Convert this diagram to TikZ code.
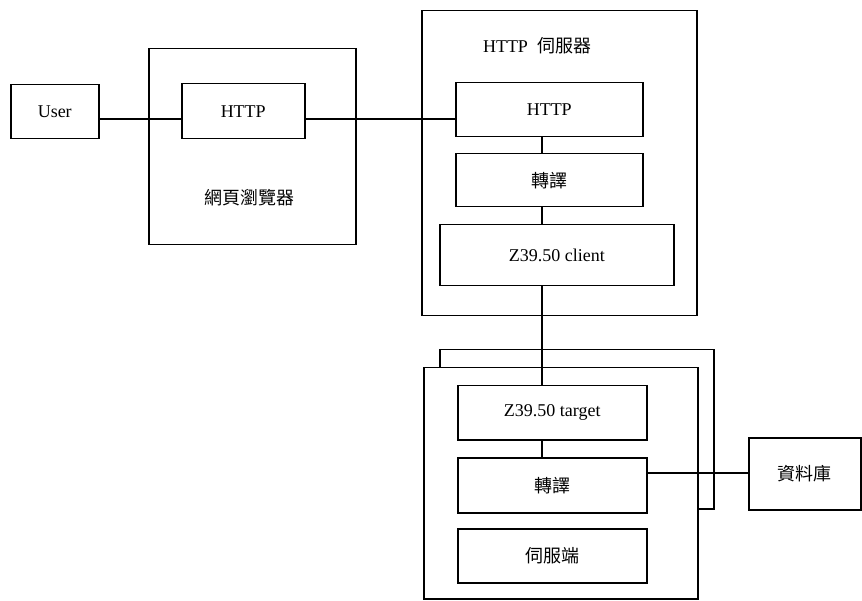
\documentclass[tikz,border=0pt]{standalone}
\usepackage{fontspec}
\setmainfont{Liberation Serif}
\newfontfamily\cjk{Noto Sans CJK TC}
\begin{document}
\begin{tikzpicture}[x=1pt,y=-1pt,
  box/.style={draw=black,line width=1.5pt,fill=white,inner sep=0pt,anchor=north west},
  lbl/.style={inner sep=0pt,font=\fontsize{18}{21}\selectfont},
  clbl/.style={inner sep=0pt,font=\cjk\fontsize{18}{21}\selectfont},
  conn/.style={draw=black,line width=2pt},
  thin/.style={draw=black,line width=1.4pt}]
\useasboundingbox (0,0) rectangle (862,601);
% user
\node[box,minimum width=88pt,minimum height=54pt] (user) at (10,84) {};
\node[lbl] (userl) at (user.center) {User};
% browser
\node[box,minimum width=207pt,minimum height=196pt] (browser) at (148,48) {};
\node[clbl] (browserl) at (249,198) {網頁瀏覽器};
\node[box,minimum width=123pt,minimum height=55pt] (bhttp) at (181,83) {};
\node[lbl] (bhttpl) at (bhttp.center) {HTTP};
% server
\node[box,minimum width=275pt,minimum height=305pt] (server) at (421,10) {};
\node[lbl] (serverl) at (537,46) {HTTP\ \ {\cjk 伺服器}};
\node[box,minimum width=187pt,minimum height=54pt] (shttp) at (455,82) {};
\node[lbl] (shttpl) at (shttp.center) {HTTP};
\node[box,minimum width=187pt,minimum height=53pt] (strans) at (455,153) {};
\node[clbl] (stransl) at (strans.center) {轉譯};
\node[box,minimum width=234pt,minimum height=61pt] (client) at (439,224) {};
\node[lbl] (clientl) at (client.center) {Z39.50 client};
% target side
\node[box,minimum width=274pt,minimum height=159pt] (back) at (439,349) {};
\node[box,minimum width=274pt,minimum height=231pt] (front) at (423,367) {};
\node[box,minimum width=189pt,minimum height=54pt] (target) at (457,385) {};
\node[lbl] (targetl) at (target.center) {Z39.50 target};
\node[box,minimum width=189pt,minimum height=55pt] (ttrans) at (457,457) {};
\node[clbl] (ttransl) at (ttrans.center) {轉譯};
\node[box,minimum width=189pt,minimum height=54pt] (serv) at (457,528) {};
\node[clbl] (servl) at (serv.center) {伺服端};
% database
\node[box,minimum width=112pt,minimum height=72pt] (db) at (748,437) {};
\node[clbl] (dbl) at (db.center) {資料庫};
% connectors
\coordinate (yl) at (0,119);
\coordinate (xl) at (542,0);
\coordinate (yd) at (0,473);
\draw[conn] (user.east |- yl) -- (bhttp.west |- yl);
\draw[conn] (bhttp.east |- yl) -- (shttp.west |- yl);
\draw[thin] (shttp.south -| xl) -- (strans.north -| xl);
\draw[thin] (strans.south -| xl) -- (client.north -| xl);
\draw[thin] (client.south -| xl) -- (target.north -| xl);
\draw[thin] (target.south -| xl) -- (ttrans.north -| xl);
\draw[thin] (ttrans.east |- yd) -- (db.west |- yd);
\end{tikzpicture}
\end{document}
